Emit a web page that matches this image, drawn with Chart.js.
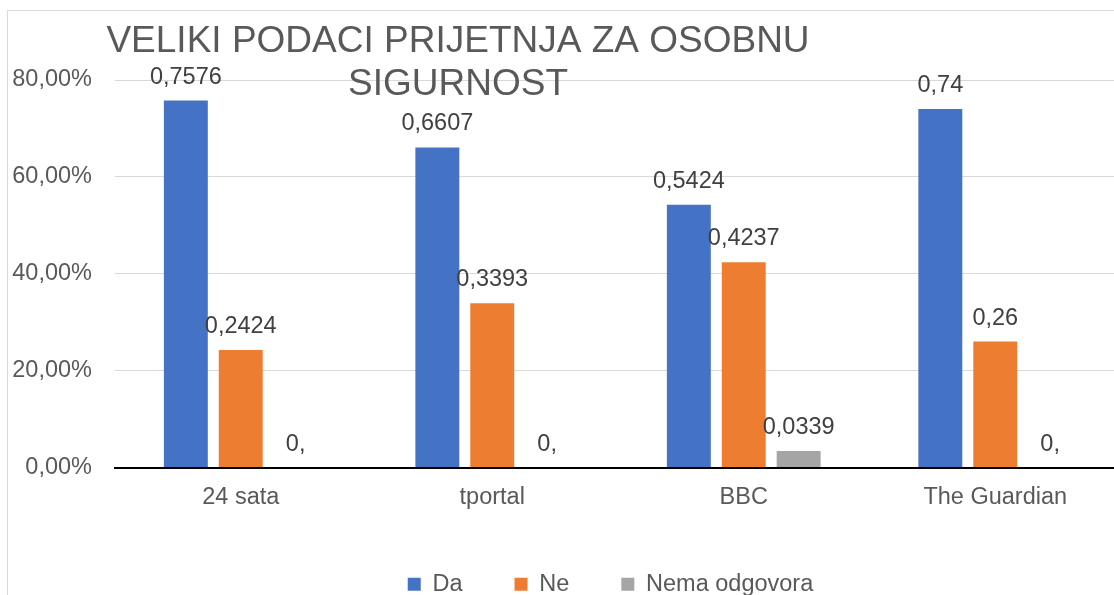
<!DOCTYPE html>
<html>
<head>
<meta charset="utf-8">
<script src="https://cdn.jsdelivr.net/npm/chart.js@4.4.0/dist/chart.umd.min.js"></script>
<style>
  html, body { margin: 0; padding: 0; background: #fff; overflow: hidden; width: 1114px; height: 595px; }
  #okvir { position: absolute; left: 7px; top: 10px; border-left: 1px solid #d9d9d9; border-top: 1px solid #d9d9d9; }
  canvas { display: block; }
</style>
</head>
<body>
<div id="okvir">
  <canvas id="grafikon" width="1125" height="595"></canvas>
</div>
<script>
// Podaci
const kategorije = ['24 sata', 'tportal', 'BBC', 'The Guardian'];
const da = [0.7576, 0.6607, 0.5424, 0.74];
const ne = [0.2424, 0.3393, 0.4237, 0.26];
const nemaOdgovora = [0, 0, 0.0339, 0];
const oznakeY = [0, 0.2, 0.4, 0.6, 0.8];

const naslov = ['VELIKI PODACI PRIJETNJA ZA OSOBNU', 'SIGURNOST'];
const font = '"Liberation Sans", Arial, sans-serif';

// Broj u hrvatskom formatu, kao u Excelu ("0," za nulu)
function formatVrijednost(v) {
    if (v === 0) return '0,';
    return String(v).replace('.', ',');
}

// Oznake vrijednosti iznad stupaca
const oznakeStupaca = {
    id: 'oznakeStupaca',
    afterDatasetsDraw(chart) {
        const ctx = chart.ctx;
        ctx.save();
        ctx.font = '23.5px ' + font;
        ctx.fillStyle = '#404040';
        ctx.textAlign = 'center';
        ctx.textBaseline = 'alphabetic';
        chart.data.datasets.forEach((ds, i) => {
            chart.getDatasetMeta(i).data.forEach((bar, j) => {
                ctx.fillText(formatVrijednost(ds.data[j]), bar.x, bar.y - 17);
            });
        });
        ctx.restore();
    }
};

// Naslov preko područja grafikona (kao u originalu)
const naslovPlugin = {
    id: 'naslovPlugin',
    afterDraw(chart) {
        const ctx = chart.ctx;
        ctx.save();
        ctx.font = '37px ' + font;
        ctx.fillStyle = '#595959';
        ctx.textAlign = 'center';
        ctx.textBaseline = 'alphabetic';
        ctx.fillText(naslov[0], 450, 41);
        ctx.fillText(naslov[1], 450, 84);
        ctx.restore();
    }
};

// Legenda je u originalu centrirana na širi (odrezani) grafikon
const pomakLegende = {
    id: 'pomakLegende',
    afterLayout(chart) {
        chart.legend.left += 46;
        chart.legend.right += 46;
    }
};

const config = {
    type: 'bar',
    data: {
        labels: kategorije,
        datasets: [
            { label: 'Da', data: da, backgroundColor: '#4472C4' },
            { label: 'Ne', data: ne, backgroundColor: '#ED7D31' },
            { label: 'Nema odgovora', data: nemaOdgovora, backgroundColor: '#A5A5A5' }
        ]
    },
    options: {
        responsive: false,
        animation: false,
        categoryPercentage: 0.655,
        barPercentage: 0.8,
        layout: { padding: { top: 69, right: 12, bottom: 0, left: 0 } },
        plugins: {
            title: { display: false },
            tooltip: { enabled: false },
            legend: {
                position: 'bottom',
                labels: {
                    boxWidth: 13,
                    boxHeight: 13,
                    padding: 52,
                    color: '#595959',
                    font: { family: font, size: 23.5 }
                }
            }
        },
        scales: {
            x: {
                grid: { display: false, drawTicks: false },
                border: { color: '#000000', width: 2 },
                ticks: { color: '#595959', padding: 16, font: { family: font, size: 23.5 } },
                afterFit(scale) { scale.height = 53; }
            },
            y: {
                min: 0,
                max: 0.8,
                afterBuildTicks(scale) { scale.ticks = oznakeY.map(v => ({ value: v })); },
                grid: { color: '#d9d9d9', lineWidth: 1, drawTicks: false },
                border: { display: false },
                ticks: {
                    color: '#595959',
                    padding: 23,
                    font: { family: font, size: 23.5 },
                    callback: v => (v * 100).toFixed(2).replace('.', ',') + '%'
                },
                afterFit(scale) { scale.width = 107; }
            }
        }
    },
    plugins: [oznakeStupaca, naslovPlugin, pomakLegende]
};

const ctx = document.getElementById('grafikon').getContext('2d');
new Chart(ctx, config);
</script>
</body>
</html>
